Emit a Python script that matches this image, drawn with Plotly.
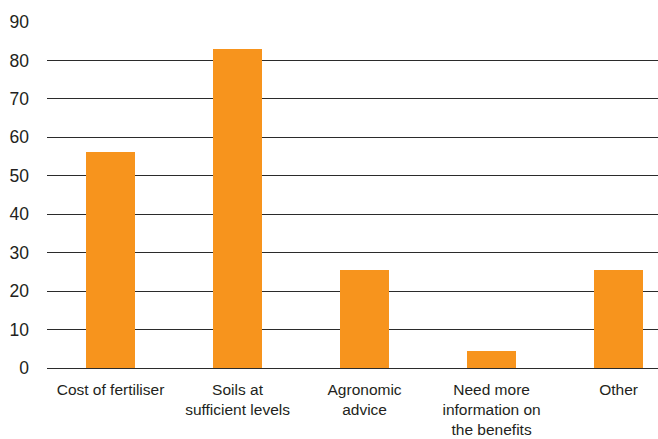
import plotly.graph_objects as go

# Reasons given, share of respondents (%)
categories = [
    "Cost of fertiliser",
    "Soils at<br>sufficient levels",
    "Agronomic<br>advice",
    "Need more<br>information on<br>the benefits",
    "Other",
]
values = [56.2, 83.0, 25.4, 4.4, 25.6]
y_ticks = [0, 10, 20, 30, 40, 50, 60, 70, 80, 90]

BAR_COLOR = "#F7941D"
TEXT_COLOR = "#231F20"
FONT = "Liberation Sans, Arial, Helvetica, sans-serif"

fig = go.Figure(
    go.Bar(
        x=list(range(len(categories))),
        y=values,
        width=0.39,
        marker=dict(color=BAR_COLOR, line=dict(width=0)),
        hoverinfo="skip",
    )
)

fig.update_layout(
    width=658,
    height=439,
    margin=dict(l=47, r=0, t=22, b=71),
    paper_bgcolor="white",
    plot_bgcolor="white",
    showlegend=False,
    font=dict(family=FONT, color=TEXT_COLOR),
    bargap=0,
)

fig.update_xaxes(
    range=[-0.5, 4.31],
    tickmode="array",
    tickvals=list(range(len(categories))),
    ticktext=categories,
    tickfont=dict(size=15.5, color=TEXT_COLOR, family=FONT),
    showgrid=False,
    showline=False,
    zeroline=False,
    ticks="",
    ticklabelstandoff=10,
    automargin=False,
)

fig.update_yaxes(
    range=[0, 90],
    tickmode="array",
    tickvals=y_ticks,
    tickfont=dict(size=17.5, color=TEXT_COLOR, family=FONT),
    showgrid=True,
    gridcolor="#2b2b2b",
    gridwidth=1.2,
    zeroline=True,
    zerolinecolor="#2b2b2b",
    zerolinewidth=1.2,
    showline=False,
    ticks="",
    ticklabelstandoff=17,
    automargin=False,
)

fig.write_html("out.html")
